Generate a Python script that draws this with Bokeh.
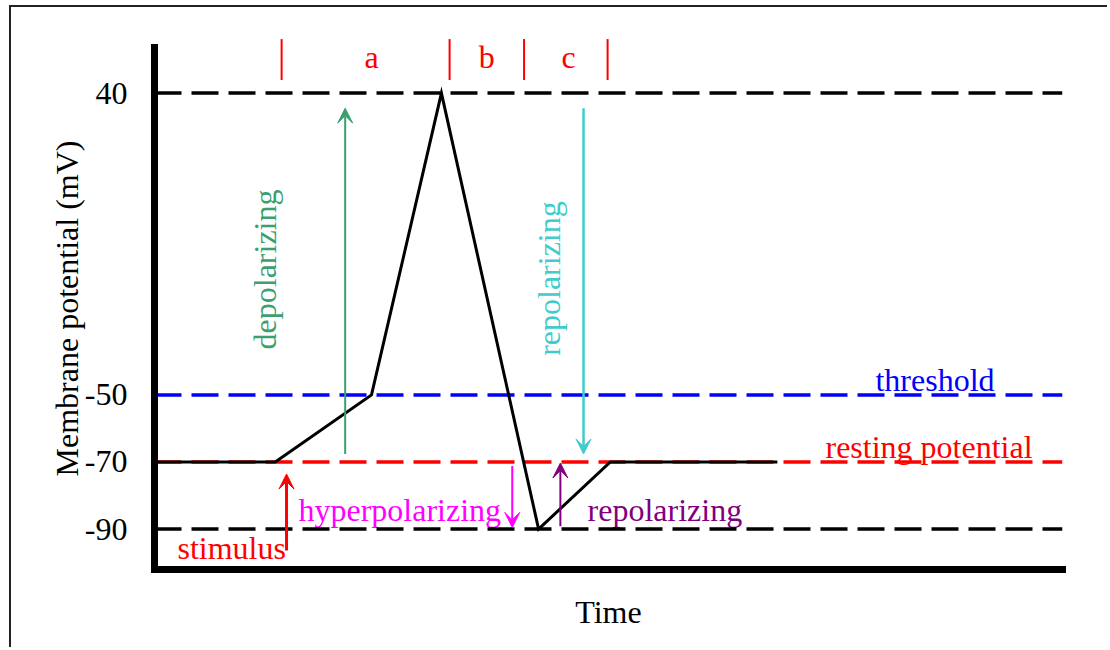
import math
from bokeh.plotting import figure
from bokeh.models import Range1d, FixedTicker, Arrow, VeeHead, ColumnDataSource
from bokeh.core.properties import value
from bokeh.embed import file_html
from bokeh.resources import INLINE

# ---- data (time in arbitrary units, potential in mV) ----
trace_t = [0.0, 1.33, 2.39, 3.16, 4.23, 5.02, 6.86]
trace_v = [-70, -70, -50, 40, -90, -70, -70]

level_v = [40, -50, -70, -90]
level_color = ["black", "#0000ff", "#ff0000", "black"]

ytick_values = [40, -50, -70, -90]
ytick_labels = ["40", "-50", "-70", "-90"]

phase_bounds = [1.40, 3.25, 4.07, 4.99]
phase_labels = ["a", "b", "c"]
phase_label_t = [2.39, 3.66, 4.56]
phase_label_v = [50.7, 50.7, 50.7]

arrow_t = [2.10, 4.725, 1.454, 3.94, 4.47]
arrow_from = [-67.6, 35.5, -96.4, -71.2, -89.2]
arrow_to = [35.5, -67.6, -73.6, -89.5, -70.3]
arrow_color = ["#3c9f6e", "#40cccc", "#ff0000", "#ff00ff", "#800080"]
arrow_width = [2, 2.5, 3, 2, 2]

# rotated phase names
vtext_labels = ["depolarizing", "repolarizing"]
vtext_t = [1.222, 4.35]
vtext_v = [-12.6, -15.3]
vtext_color = ["#3c9f6e", "#40cccc"]

# horizontal annotations
htext_labels = ["threshold", "resting potential", "stimulus", "hyperpolarizing", "repolarizing"]
htext_t = [7.94, 7.39, 0.253, 1.586, 4.77]
htext_v = [-45.6, -65.6, -95.6, -84.4, -84.4]
htext_color = ["#0000ff", "#ff0000", "#ff0000", "#ff00ff", "#800080"]

FONT = "Liberation Serif"
FS = "32px"

p = figure(width=1098, height=642, output_backend="svg", toolbar_location=None,
           x_range=Range1d(0, 10), y_range=Range1d(-102.06, 53.59),
           min_border_left=143, min_border_right=47, min_border_top=40, min_border_bottom=80,
           background_fill_color="white", border_fill_color="white")
p.styles = {"border-top": "2px solid #222", "border-left": "2px solid #222",
            "margin-left": "9px", "margin-top": "5px"}
p.outline_line_color = None
p.grid.visible = False

# axes
yax = p.yaxis[0]
yax.ticker = FixedTicker(ticks=ytick_values)
yax.major_label_overrides = dict(zip(ytick_values, ytick_labels))
yax.axis_line_width = 7
yax.axis_line_cap = "square"
yax.major_tick_out = 0
yax.major_tick_in = 0
yax.minor_tick_out = 0
yax.minor_tick_in = 0
yax.major_label_standoff = 27
yax.major_label_text_font = FONT
yax.major_label_text_font_size = FS
yax.major_label_text_color = "black"
yax.axis_label = "Membrane potential (mV)"
yax.axis_label_text_font = FONT
yax.axis_label_text_font_size = FS
yax.axis_label_text_font_style = "normal"
yax.axis_label_text_color = "black"
yax.axis_label_standoff = -3

xax = p.xaxis[0]
xax.ticker = FixedTicker(ticks=[])
xax.axis_line_width = 7
xax.axis_line_cap = "square"
xax.major_tick_out = 0
xax.minor_tick_out = 0
xax.major_label_text_font_size = "0px"
xax.axis_label = "Time"
xax.axis_label_text_font = FONT
xax.axis_label_text_font_size = FS
xax.axis_label_text_font_style = "normal"
xax.axis_label_text_color = "black"
xax.axis_label_standoff = 24

# texts
vsrc = ColumnDataSource(dict(t=vtext_t, v=vtext_v, s=vtext_labels, c=vtext_color))
p.text(x="t", y="v", text="s", source=vsrc, text_color="c", angle=math.pi / 2,
       text_align="center", text_baseline="middle",
       text_font=value(FONT), text_font_size=value(FS))
hsrc = ColumnDataSource(dict(t=htext_t, v=htext_v, s=htext_labels, c=htext_color))
p.text(x="t", y="v", text="s", source=hsrc, text_color="c",
       text_align="left", text_baseline="middle",
       text_font=value(FONT), text_font_size=value(FS))

# reference levels (dashed)
for lv, lc in zip(level_v, level_color):
    p.line(x=[0, 10], y=[lv, lv], line_color=lc, line_width=3.5, line_dash="27 10")

# the action potential trace
p.line(x=trace_t, y=trace_v, line_color="black", line_width=3, line_join="miter")

# phase markers (drawn above the plotting frame)
p.segment(x0=phase_bounds, x1=phase_bounds, y0=[43.9] * len(phase_bounds),
          y1=[56.1] * len(phase_bounds), line_color="#ff0000", line_width=2, level="overlay")
p.text(x=phase_label_t, y=phase_label_v, text=phase_labels,
       text_color="#ff0000", text_align="center", text_baseline="middle",
       text_font=value(FONT), text_font_size=value(FS), level="overlay")

# arrows
for t, a0, a1, c, w in zip(arrow_t, arrow_from, arrow_to, arrow_color, arrow_width):
    p.add_layout(Arrow(x_start=t, y_start=a0, x_end=t, y_end=a1, line_color=c, line_width=w,
                       end=VeeHead(size=15, fill_color=c, line_color=c, line_width=1)))

open("out.html", "w").write(file_html(p, INLINE))
